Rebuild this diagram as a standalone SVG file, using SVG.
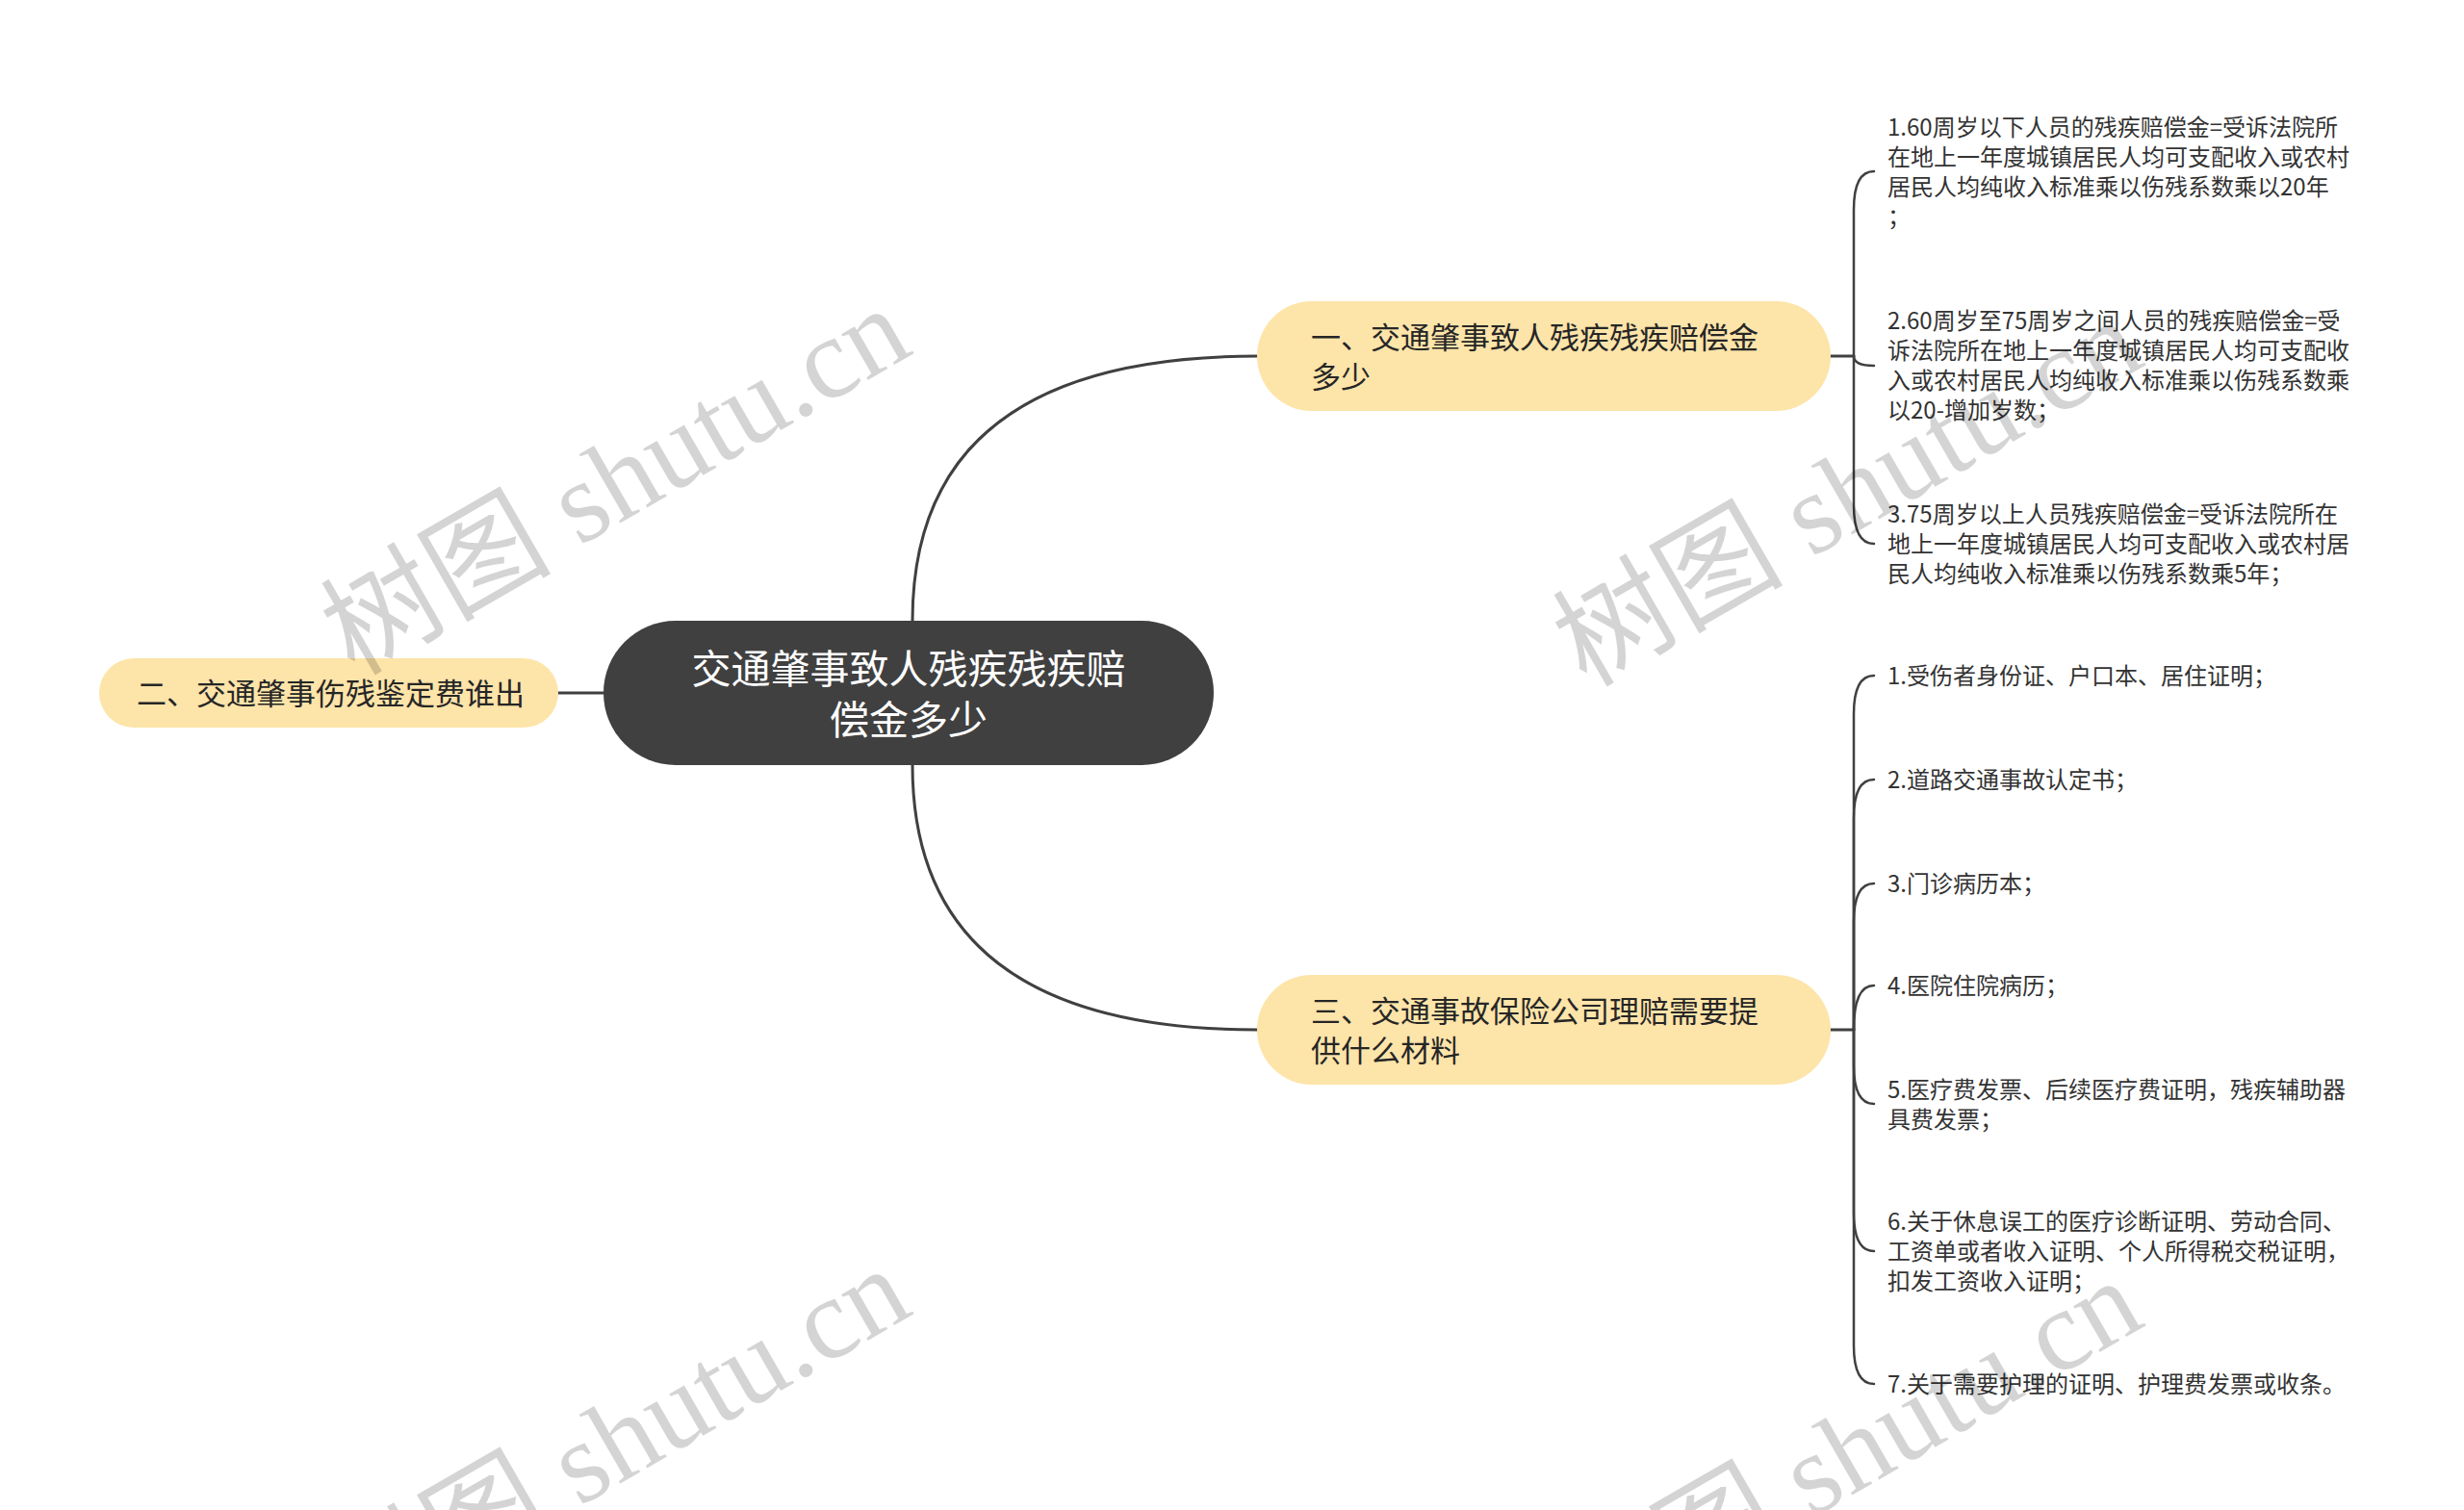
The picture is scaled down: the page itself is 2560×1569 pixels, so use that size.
<svg xmlns="http://www.w3.org/2000/svg" width="2560" height="1569" viewBox="0 0 2560 1569">
<style>
.bg{fill:#ffffff}
.conn{fill:none;stroke:#404040;stroke-width:3;stroke-linecap:round}
.leafc{fill:none;stroke:#404040;stroke-width:2.5;stroke-linecap:round}
.root{fill:#404040}
.sub{fill:#fde4a9}
.t{font-family:"Noto Sans CJK SC","Noto Sans",sans-serif}
.rt{font-size:41px;fill:#ffffff;text-anchor:middle}
.st{font-size:31px;fill:#262626}
.lt{font-size:24px;fill:#333333}
.wm{font-family:"Liberation Serif","Noto Sans CJK SC",serif;font-size:120px;fill:#000000;fill-opacity:0.17}
</style>
<rect class="bg" x="0" y="0" width="2560" height="1569"/>
<g id="connectors">
  <path class="conn" d="M948 645 Q948 370 1306 370"/>
  <path class="conn" d="M948 795 Q948 1070 1306 1070"/>
  <path class="conn" d="M580 720 H627"/>
  <path class="conn" d="M1902 370 H1926"/>
  <path class="leafc" d="M1926 370 L1926 218 Q1926 178 1947 178"/>
  <path class="leafc" d="M1926 370 Q1926 380 1947 380"/>
  <path class="leafc" d="M1926 370 L1926 525 Q1926 565 1947 565"/>
  <path class="conn" d="M1902 1070 H1926"/>
  <path class="leafc" d="M1926 1070 L1926 742 Q1926 702 1947 702"/>
  <path class="leafc" d="M1926 1070 L1926 850 Q1926 810 1947 810"/>
  <path class="leafc" d="M1926 1070 L1926 958 Q1926 918 1947 918"/>
  <path class="leafc" d="M1926 1070 Q1926 1024 1947 1024"/>
  <path class="leafc" d="M1926 1070 L1926 1107 Q1926 1147 1947 1147"/>
  <path class="leafc" d="M1926 1070 L1926 1260 Q1926 1300 1947 1300"/>
  <path class="leafc" d="M1926 1070 L1926 1398 Q1926 1438 1947 1438"/>
</g>
<g id="root">
  <rect class="root" x="627" y="645" width="634" height="150" rx="75"/>
  <text class="t rt" x="944" y="710">交通肇事致人残疾残疾赔</text>
  <text class="t rt" x="944" y="763">偿金多少</text>
</g>
<g id="node-left">
  <rect class="sub" x="103" y="684" width="477" height="72" rx="36"/>
  <text class="t st" x="142" y="732">二、交通肇事伤残鉴定费谁出</text>
</g>
<g id="node-1">
  <rect class="sub" x="1306" y="313" width="596" height="114" rx="57"/>
  <text class="t st" x="1362" y="362">一、交通肇事致人残疾残疾赔偿金</text>
  <text class="t st" x="1362" y="403">多少</text>
</g>
<g id="node-3">
  <rect class="sub" x="1306" y="1013" width="596" height="114" rx="57"/>
  <text class="t st" x="1362" y="1062">三、交通事故保险公司理赔需要提</text>
  <text class="t st" x="1362" y="1103">供什么材料</text>
</g>
<g id="leaf-1-1">
  <text class="t lt" x="1961" y="141">1.60周岁以下人员的残疾赔偿金=受诉法院所</text>
  <text class="t lt" x="1961" y="172">在地上一年度城镇居民人均可支配收入或农村</text>
  <text class="t lt" x="1961" y="203">居民人均纯收入标准乘以伤残系数乘以20年</text>
  <text class="t lt" x="1961" y="234">；</text>
</g>
<g id="leaf-1-2">
  <text class="t lt" x="1961" y="342">2.60周岁至75周岁之间人员的残疾赔偿金=受</text>
  <text class="t lt" x="1961" y="373">诉法院所在地上一年度城镇居民人均可支配收</text>
  <text class="t lt" x="1961" y="404">入或农村居民人均纯收入标准乘以伤残系数乘</text>
  <text class="t lt" x="1961" y="435">以20-增加岁数；</text>
</g>
<g id="leaf-1-3">
  <text class="t lt" x="1961" y="543">3.75周岁以上人员残疾赔偿金=受诉法院所在</text>
  <text class="t lt" x="1961" y="574">地上一年度城镇居民人均可支配收入或农村居</text>
  <text class="t lt" x="1961" y="605">民人均纯收入标准乘以伤残系数乘5年；</text>
</g>
<g id="leaf-3-1">
  <text class="t lt" x="1961" y="711">1.受伤者身份证、户口本、居住证明；</text>
</g>
<g id="leaf-3-2">
  <text class="t lt" x="1961" y="819">2.道路交通事故认定书；</text>
</g>
<g id="leaf-3-3">
  <text class="t lt" x="1961" y="927">3.门诊病历本；</text>
</g>
<g id="leaf-3-4">
  <text class="t lt" x="1961" y="1033">4.医院住院病历；</text>
</g>
<g id="leaf-3-5">
  <text class="t lt" x="1961" y="1141">5.医疗费发票、后续医疗费证明，残疾辅助器</text>
  <text class="t lt" x="1961" y="1172">具费发票；</text>
</g>
<g id="leaf-3-6">
  <text class="t lt" x="1961" y="1278">6.关于休息误工的医疗诊断证明、劳动合同、</text>
  <text class="t lt" x="1961" y="1309">工资单或者收入证明、个人所得税交税证明，</text>
  <text class="t lt" x="1961" y="1340">扣发工资收入证明；</text>
</g>
<g id="leaf-3-7">
  <text class="t lt" x="1961" y="1447">7.关于需要护理的证明、护理费发票或收条。</text>
</g>
<g id="watermarks">
  <text class="wm" transform="translate(368 703) rotate(-30)">树图 shutu.cn</text>
  <text class="wm" transform="translate(1648 715) rotate(-30)">树图 shutu.cn</text>
  <text class="wm" transform="translate(368 1701) rotate(-30)">树图 shutu.cn</text>
  <text class="wm" transform="translate(1648 1713) rotate(-30)">树图 shutu.cn</text>
</g>
</svg>
